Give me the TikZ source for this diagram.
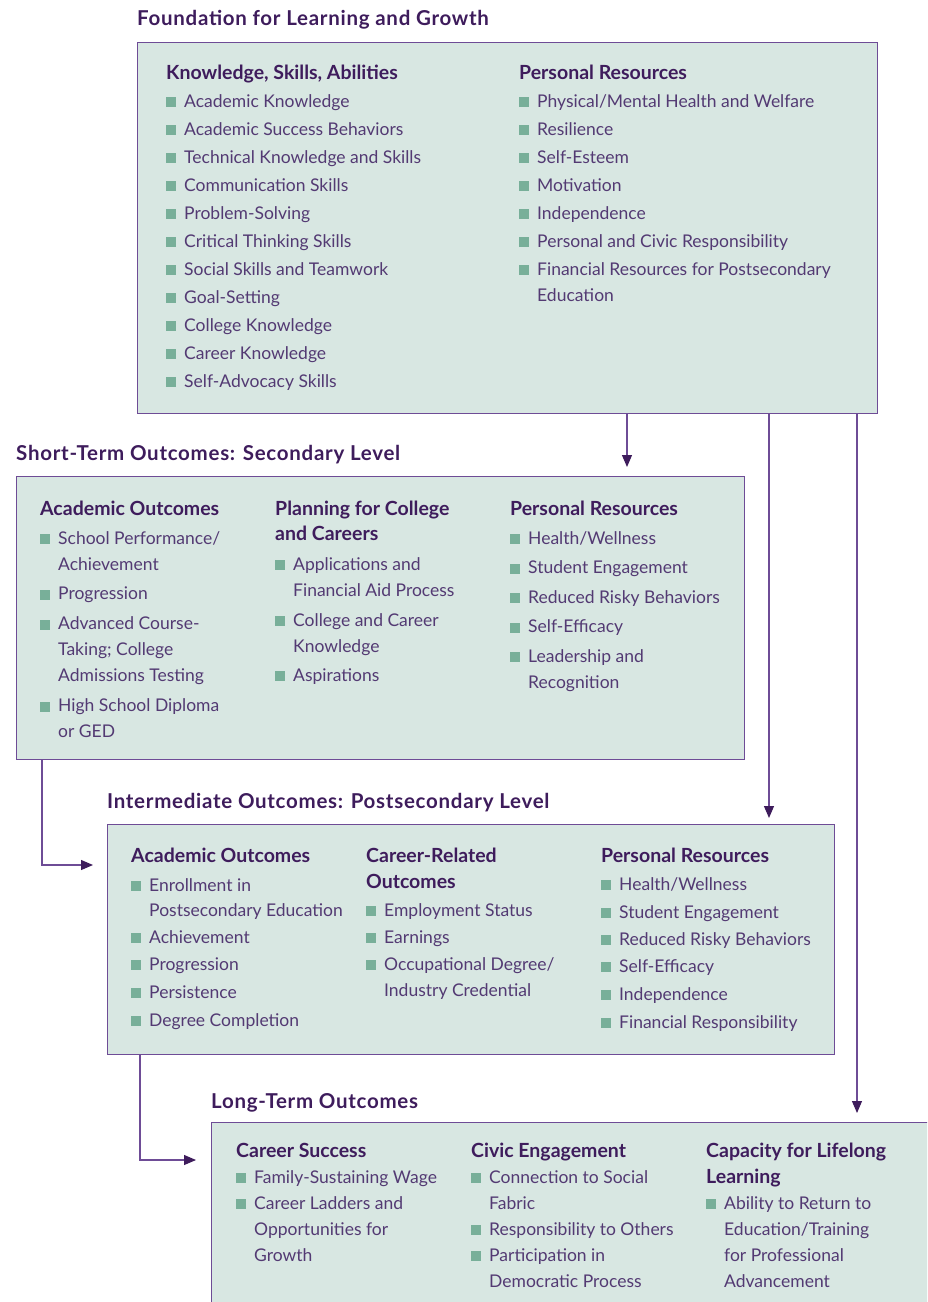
\documentclass[tikz,border=0pt]{standalone}
\usepackage{fontspec}
\setmainfont{Lato}
\newfontfamily\spacedfont[LetterSpace=3.5]{Lato}
\usetikzlibrary{arrows.meta}
\definecolor{panelfill}{HTML}{D8E7E2}
\definecolor{panelline}{HTML}{6E4C96}
\definecolor{headpurple}{HTML}{3E1C5C}
\definecolor{textpurple}{HTML}{533A73}
\definecolor{bulgreen}{HTML}{78AF99}
\newcommand{\bul}{\makebox[18pt][l]{\textcolor{bulgreen}{\rule{10pt}{10pt}}}}
\newcommand{\ind}{\hspace*{18pt}}
\newcommand{\hd}[1]{{\bfseries\fontsize{19.5}{26}\selectfont\color{headpurple}\strut#1}}

\tikzset{
  panel/.style={draw=panelline, fill=panelfill, line width=1.2pt, inner sep=0pt, anchor=north west},
  paneltitle/.style={anchor=base west, inner sep=0pt, font=\spacedfont\bfseries\fontsize{20.5}{24}\selectfont, text=headpurple},
  column/.style={anchor=north west, inner sep=0pt, align=left, font=\fontsize{17.5}{26}\selectfont, text=textpurple},
  flow/.style={draw=panelline, line width=1.2pt, -{Triangle[length=12pt,width=10pt,color=headpurple]}, shorten >=9pt},
}

\begin{document}
\begin{tikzpicture}[x=1pt,y=-1pt]
  \clip (0,0) rectangle (927,1302);

  % panels
  \node[panel, minimum width=740pt, minimum height=371pt] (found) at (137,42) {};
  \node[panel, minimum width=728pt, minimum height=283pt] (short) at (16,476) {};
  \node[panel, minimum width=727pt, minimum height=230pt] (inter) at (107,824) {};
  \node[panel, minimum width=740pt, minimum height=200pt] (long) at (211,1122) {};

  % titles
  \node[paneltitle] (foundtitle) at (137,25) {Foundation for Learning and Growth};
  \node[paneltitle] (shorttitle) at (16,460) {Short-Term Outcomes: Secondary Level};
  \node[paneltitle] (intertitle) at (107,808) {Intermediate Outcomes: Postsecondary Level};
  \node[paneltitle] (longtitle) at (211,1108) {Long-Term Outcomes};

  % foundation (heading baseline 79)
  \node[column] (ksa) at (166,60.8) {\hd{Knowledge, Skills, Abilities}\\[2pt]
    \bul Academic Knowledge\\[2pt]
    \bul Academic Success Behaviors\\[2pt]
    \bul Technical Knowledge and Skills\\[2pt]
    \bul Communication Skills\\[2pt]
    \bul Problem-Solving\\[2pt]
    \bul Critical Thinking Skills\\[2pt]
    \bul Social Skills and Teamwork\\[2pt]
    \bul Goal-Setting\\[2pt]
    \bul College Knowledge\\[2pt]
    \bul Career Knowledge\\[2pt]
    \bul Self-Advocacy Skills};
  \node[column] (foundres) at (519,60.8) {\hd{Personal Resources}\\[2pt]
    \bul Physical/Mental Health and Welfare\\[2pt]
    \bul Resilience\\[2pt]
    \bul Self-Esteem\\[2pt]
    \bul Motivation\\[2pt]
    \bul Independence\\[2pt]
    \bul Personal and Civic Responsibility\\[2pt]
    \bul Financial Resources for Postsecondary\\
    \ind Education};

  % short-term (heading baseline 515)
  \node[column] (shortacad) at (40,496.8) {\hd{Academic Outcomes}\\[3pt]
    \bul School Performance/\\
    \ind Achievement\\[3.5pt]
    \bul Progression\\[4pt]
    \bul Advanced Course-\\
    \ind Taking; College\\
    \ind Admissions Testing\\[4pt]
    \bul High School Diploma\\
    \ind or GED};
  \node[column] (shortplan) at (275,496.8) {\hd{Planning for College}\\[-1pt]
    \hd{and Careers}\\[4pt]
    \bul Applications and\\
    \ind Financial Aid Process\\[4pt]
    \bul College and Career\\
    \ind Knowledge\\[3pt]
    \bul Aspirations};
  \node[column] (shortres) at (510,496.8) {\hd{Personal Resources}\\[3pt]
    \bul Health/Wellness\\[3.5pt]
    \bul Student Engagement\\[3.5pt]
    \bul Reduced Risky Behaviors\\[3.5pt]
    \bul Self-Efficacy\\[3.5pt]
    \bul Leadership and\\
    \ind Recognition};

  % intermediate (heading baseline 862)
  \node[column] (interacad) at (131,843.8) {\hd{Academic Outcomes}\\[3pt]
    \bul Enrollment in\\[-1pt]
    \ind Postsecondary Education\\[1pt]
    \bul Achievement\\[1pt]
    \bul Progression\\[2pt]
    \bul Persistence\\[2pt]
    \bul Degree Completion};
  \node[column] (intercareer) at (366,843.8) {\hd{Career-Related}\\
    \hd{Outcomes}\\[2pt]
    \bul Employment Status\\[1pt]
    \bul Earnings\\[1pt]
    \bul Occupational Degree/\\
    \ind Industry Credential};
  \node[column] (interres) at (601,843.8) {\hd{Personal Resources}\\[2pt]
    \bul Health/Wellness\\[2pt]
    \bul Student Engagement\\[1pt]
    \bul Reduced Risky Behaviors\\[1pt]
    \bul Self-Efficacy\\[2pt]
    \bul Independence\\[2pt]
    \bul Financial Responsibility};

  % long-term (heading baseline 1157)
  \node[column] (career) at (236,1138.8) {\hd{Career Success}\\
    \bul Family-Sustaining Wage\\
    \bul Career Ladders and\\
    \ind Opportunities for\\
    \ind Growth};
  \node[column] (civic) at (471,1138.8) {\hd{Civic Engagement}\\
    \bul Connection to Social\\
    \ind Fabric\\
    \bul Responsibility to Others\\
    \bul Participation in\\
    \ind Democratic Process};
  \node[column] (lifelong) at (706,1138.8) {\hd{Capacity for Lifelong}\\
    \hd{Learning}\\
    \bul Ability to Return to\\
    \ind Education/Training\\
    \ind for Professional\\
    \ind Advancement};

  % connectors
  \draw[flow] ([xshift=490pt]found.south west) coordinate (f1) -- (f1 |- short.north);
  \draw[flow, shorten >=6pt] ([xshift=632pt]found.south west) coordinate (f2) -- (f2 |- inter.north);
  \draw[flow] ([xshift=720pt]found.south west) coordinate (f3) -- (f3 |- long.north);
  \draw[flow, shorten >=14pt] ([xshift=26pt]short.south west) |- ([yshift=-41pt]inter.north west);
  \draw[flow, shorten >=15pt] ([xshift=33pt]inter.south west) |- ([yshift=-38pt]long.north west);
\end{tikzpicture}
\end{document}
